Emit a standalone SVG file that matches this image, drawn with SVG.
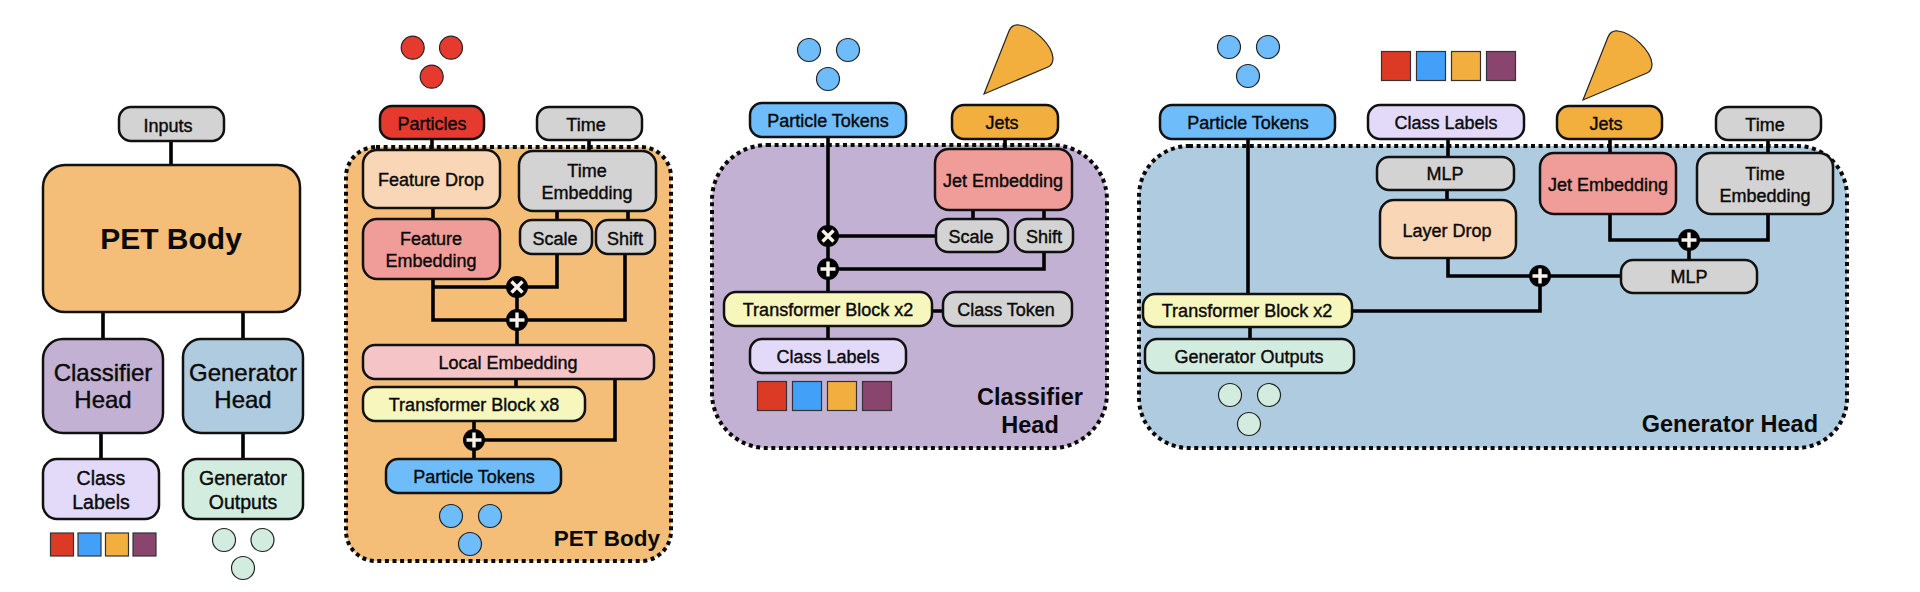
<svg xmlns="http://www.w3.org/2000/svg" xmlns:xlink="http://www.w3.org/1999/xlink" width="1920" height="592" viewBox="0 0 1920 592">
<style>
text{font-family:"Liberation Sans",Arial,sans-serif;font-size:18px;fill:#0a0a0a;text-anchor:middle;stroke:#0a0a0a;stroke-width:.4}
.n{stroke:#111;stroke-width:2.5}
.p{stroke:#0a0a0a;stroke-width:4;stroke-dasharray:4 3.6}
.c{fill:none;stroke:#000;stroke-width:3.6;stroke-linejoin:miter}
.s{stroke:#333;stroke-width:1.2}
.d{stroke:#222;stroke-width:1.2}
.b{font-weight:bold;stroke:none;font-size:22.500px}
.gray{fill:#d3d3d3}.red{fill:#e63a2f}.drop{fill:#f9d6b5}.emb{fill:#f09d9a}.loc{fill:#f4c4c6}.tf{fill:#f7f6bd}.tok{fill:#6ebcf9}.jet{fill:#f3af3d}.lab{fill:#e3dafa}.out{fill:#d2ece0}
.org{fill:#f4be78}.pur{fill:#c3b1d3}.blu{fill:#aecbe0}
.op{fill:#000}.x{stroke:#f6f1ea;stroke-width:3.4;fill:none}
</style>
<defs>
<path id="cone" d="M984 94L1009 31Q1012 24 1019 25C1034 27 1052 45 1053 58Q1053 65 1048 67Z" fill="#f3af3d" stroke="#222" stroke-width="1.200"/>
<g id="sq"><rect class="s" x="0" y="0" width="29" height="29" fill="#dd3a26"/><rect class="s" x="35" y="0" width="29" height="29" fill="#42a0f8"/><rect class="s" x="70" y="0" width="29" height="29" fill="#f3af3d"/><rect class="s" x="105" y="0" width="29" height="29" fill="#8a456e"/></g>
</defs>

<g id="panels">
<rect id="panel-pet" class="p org" x="346" y="147" width="325" height="414" rx="30"/>
<rect id="panel-classifier" class="p pur" x="712" y="145" width="395" height="303" rx="55"/>
<rect id="panel-generator" class="p blu" x="1139" y="146" width="708" height="302" rx="50"/>
</g>

<g id="connectors">
<path class="c" d="M171 141V165M103 312V339M243 312V339M101 433V459M243 433V459"/>
<path class="c" d="M432 139V150M589 140V151M433 208V219M557 211V220M628 211V220M433 279V320H625V254M433 287H557V254M517 287V345M516 379V387M474 421V459M615 379V440H474"/>
<path class="c" d="M828 137V339M1005 139V149M973 210V219M1044 210V219M828 236H936M1044 252V269H828M932 311H943"/>
<path class="c" d="M1248 139V294M1250 327V339M1448 139V157M1447 190V200M1448 258V276H1621M1352 311H1540V276M1610 139V153M1768 140V153M1610 214V240H1768V214M1689 240V260"/>
</g>

<g id="overview">
<g id="inputs"><rect class="n gray" x="119" y="107" width="105" height="34" rx="12"/><text x="168" y="132">Inputs</text></g>
<g id="pet-body"><rect class="n org" x="43" y="165" width="257" height="147" rx="22"/><text x="171" y="249" style="font-size:30px;font-weight:bold;stroke:none">PET Body</text></g>
<g id="classifier-head"><rect class="n pur" x="43" y="339" width="120" height="94" rx="20"/><text x="103" y="381" style="font-size:24px">Classifier</text><text x="103" y="408" style="font-size:24px">Head</text></g>
<g id="generator-head"><rect class="n blu" x="183" y="339" width="120" height="94" rx="18"/><text x="243" y="381" style="font-size:24px">Generator</text><text x="243" y="408" style="font-size:24px">Head</text></g>
<g id="class-labels"><rect class="n lab" x="43" y="459" width="116" height="60" rx="14"/><text x="101" y="485" style="font-size:19.500px">Class</text><text x="101" y="509" style="font-size:19.500px">Labels</text></g>
<g id="generator-outputs"><rect class="n out" x="183" y="459" width="120" height="60" rx="14"/><text x="243" y="485" style="font-size:19.500px">Generator</text><text x="243" y="509" style="font-size:19.500px">Outputs</text></g>
<g id="squares-overview"><rect class="s" x="50.500" y="533" width="23" height="23" fill="#dd3a26"/><rect class="s" x="78" y="533" width="23" height="23" fill="#42a0f8"/><rect class="s" x="105.500" y="533" width="23" height="23" fill="#f3af3d"/><rect class="s" x="133" y="533" width="23" height="23" fill="#8a456e"/></g>
<g id="circles-overview" class="out"><circle class="d" cx="224" cy="540" r="11.500"/><circle class="d" cx="262.500" cy="540" r="11.500"/><circle class="d" cx="243" cy="568" r="11.500"/></g>
</g>

<g id="pet-detail">
<g id="particle-dots" class="red"><circle class="d" cx="412.700" cy="47.700" r="11.500"/><circle class="d" cx="451" cy="47.700" r="11.500"/><circle class="d" cx="431.700" cy="76.700" r="11.500"/></g>
<g id="particles"><rect class="n red" x="380" y="106" width="104" height="33" rx="12"/><text x="432" y="130">Particles</text></g>
<g id="time"><rect class="n gray" x="537" y="107" width="105" height="33" rx="12"/><text x="586" y="131">Time</text></g>
<g id="feature-drop"><rect class="n drop" x="363" y="150" width="137" height="58" rx="14"/><text x="431" y="186">Feature Drop</text></g>
<g id="feature-embedding"><rect class="n emb" x="363" y="219" width="137" height="60" rx="14"/><text x="431" y="245">Feature</text><text x="431" y="267">Embedding</text></g>
<g id="time-embedding"><rect class="n gray" x="519" y="151" width="137" height="60" rx="14"/><text x="587" y="177">Time</text><text x="587" y="199">Embedding</text></g>
<g id="scale"><rect class="n gray" x="520" y="220" width="72" height="34" rx="12"/><text x="555" y="245">Scale</text></g>
<g id="shift"><rect class="n gray" x="596" y="220" width="59" height="34" rx="12"/><text x="625" y="245">Shift</text></g>
<g id="mul-1"><circle class="op" cx="517" cy="287" r="11"/><path class="x" d="M511.500 281.500L522.500 292.500M522.500 281.500L511.500 292.500"/></g>
<g id="add-1"><circle class="op" cx="517" cy="320" r="11"/><path class="x" d="M517 312.500V327.500M509.500 320H524.500"/></g>
<g id="local-embedding"><rect class="n loc" x="363" y="345" width="291" height="34" rx="12"/><text x="508" y="369">Local Embedding</text></g>
<g id="transformer-x8"><rect class="n tf" x="363" y="387" width="222" height="34" rx="12"/><text x="474" y="411">Transformer Block x8</text></g>
<g id="add-2"><circle class="op" cx="474" cy="440" r="11"/><path class="x" d="M474 432.500V447.500M466.500 440H481.500"/></g>
<g id="particle-tokens"><rect class="n tok" x="386" y="459" width="175" height="34" rx="12"/><text x="474" y="483">Particle Tokens</text></g>
<g id="token-dots" class="tok"><circle class="d" cx="451" cy="516" r="11.500"/><circle class="d" cx="490" cy="516" r="11.500"/><circle class="d" cx="470" cy="544" r="11.500"/></g>
<text class="b" x="660" y="546" style="text-anchor:end">PET Body</text>
</g>

<g id="classifier-detail">
<g id="cls-token-dots" class="tok"><circle class="d" cx="809" cy="50" r="11.500"/><circle class="d" cx="848" cy="50" r="11.500"/><circle class="d" cx="828" cy="79" r="11.500"/></g>
<use id="cls-cone" href="#cone" xlink:href="#cone"/>
<g id="cls-particle-tokens"><rect class="n tok" x="750" y="103" width="156" height="34" rx="12"/><text x="828" y="127">Particle Tokens</text></g>
<g id="cls-jets"><rect class="n jet" x="952" y="105" width="106" height="34" rx="12"/><text x="1002" y="129">Jets</text></g>
<g id="cls-jet-embedding"><rect class="n emb" x="935" y="149" width="137" height="61" rx="14"/><text x="1003" y="187">Jet Embedding</text></g>
<g id="cls-scale"><rect class="n gray" x="936" y="219" width="72" height="33" rx="12"/><text x="971" y="243">Scale</text></g>
<g id="cls-shift"><rect class="n gray" x="1015" y="219" width="58" height="33" rx="12"/><text x="1044" y="243">Shift</text></g>
<g id="cls-mul"><circle class="op" cx="828" cy="236" r="11"/><path class="x" d="M822.500 230.500L833.500 241.500M833.500 230.500L822.500 241.500"/></g>
<g id="cls-add"><circle class="op" cx="828" cy="269" r="11"/><path class="x" d="M828 261.500V276.500M820.500 269H835.500"/></g>
<g id="cls-transformer"><rect class="n tf" x="724" y="292" width="208" height="34" rx="12"/><text x="828" y="316">Transformer Block x2</text></g>
<g id="cls-class-token"><rect class="n gray" x="943" y="292" width="129" height="34" rx="12"/><text x="1006" y="316">Class Token</text></g>
<g id="cls-class-labels"><rect class="n lab" x="750" y="339" width="156" height="34" rx="12"/><text x="828" y="363">Class Labels</text></g>
<use id="cls-squares" href="#sq" xlink:href="#sq" transform="translate(757.500 381.500)"/>
<text class="b" x="1030" y="405" style="font-size:23.500px">Classifier</text>
<text class="b" x="1030" y="433" style="font-size:23.500px">Head</text>
</g>

<g id="generator-detail">
<g id="gen-token-dots" class="tok"><circle class="d" cx="1229" cy="47" r="11.500"/><circle class="d" cx="1268" cy="47" r="11.500"/><circle class="d" cx="1248" cy="76" r="11.500"/></g>
<use id="gen-squares" href="#sq" xlink:href="#sq" transform="translate(1381.500 51.500)"/>
<use id="gen-cone" href="#cone" xlink:href="#cone" transform="translate(599 6)"/>
<g id="gen-particle-tokens"><rect class="n tok" x="1160" y="105" width="175" height="34" rx="12"/><text x="1248" y="129">Particle Tokens</text></g>
<g id="gen-class-labels"><rect class="n lab" x="1368" y="105" width="156" height="34" rx="12"/><text x="1446" y="129">Class Labels</text></g>
<g id="gen-jets"><rect class="n jet" x="1557" y="106" width="105" height="33" rx="12"/><text x="1606" y="130">Jets</text></g>
<g id="gen-time"><rect class="n gray" x="1716" y="107" width="105" height="33" rx="12"/><text x="1765" y="131">Time</text></g>
<g id="gen-mlp-1"><rect class="n gray" x="1377" y="157" width="137" height="33" rx="12"/><text x="1445" y="180">MLP</text></g>
<g id="gen-layer-drop"><rect class="n drop" x="1380" y="200" width="136" height="58" rx="14"/><text x="1447" y="237">Layer Drop</text></g>
<g id="gen-jet-embedding"><rect class="n emb" x="1540" y="153" width="136" height="61" rx="14"/><text x="1608" y="191">Jet Embedding</text></g>
<g id="gen-time-embedding"><rect class="n gray" x="1697" y="153" width="136" height="61" rx="14"/><text x="1765" y="180">Time</text><text x="1765" y="202">Embedding</text></g>
<g id="gen-add-1"><circle class="op" cx="1689" cy="240" r="11"/><path class="x" d="M1689 232.500V247.500M1681.500 240H1696.500"/></g>
<g id="gen-mlp-2"><rect class="n gray" x="1621" y="260" width="136" height="33" rx="12"/><text x="1689" y="283">MLP</text></g>
<g id="gen-add-2"><circle class="op" cx="1540" cy="276" r="11"/><path class="x" d="M1540 268.500V283.500M1532.500 276H1547.500"/></g>
<g id="gen-transformer"><rect class="n tf" x="1143" y="294" width="209" height="33" rx="12"/><text x="1247" y="317">Transformer Block x2</text></g>
<g id="gen-outputs"><rect class="n out" x="1145" y="339" width="209" height="34" rx="12"/><text x="1249" y="363">Generator Outputs</text></g>
<g id="gen-output-dots" class="out"><circle class="d" cx="1230" cy="395" r="11.500"/><circle class="d" cx="1269" cy="395" r="11.500"/><circle class="d" cx="1249" cy="424" r="11.500"/></g>
<text class="b" x="1818" y="432" style="text-anchor:end;font-size:23.500px">Generator Head</text>
</g>
</svg>
